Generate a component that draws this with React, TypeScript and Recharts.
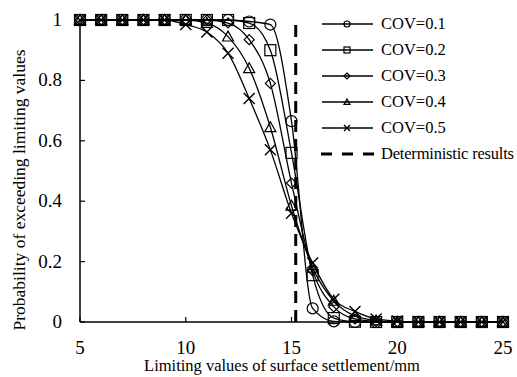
import { Label, Line, LineChart, ReferenceLine, XAxis, YAxis } from "recharts";

// Limiting settlement values (mm) at which the exceedance probability was evaluated
const settlement = [5, 6, 7, 8, 9, 10, 11, 12, 13, 14, 15, 16, 17, 18, 19, 20, 21, 22, 23, 24, 25];

const cov01 = [1, 1, 1, 1, 1, 1, 1, 1, 0.995, 0.985, 0.665, 0.045, 0.002, 0, 0, 0, 0, 0, 0, 0, 0];
const cov02 = [1, 1, 1, 1, 1, 1, 1, 1, 0.99, 0.9, 0.56, 0.155, 0.013, 0.001, 0, 0, 0, 0, 0, 0, 0];
const cov03 = [1, 1, 1, 1, 1, 1, 1, 0.99, 0.935, 0.79, 0.46, 0.17, 0.05, 0.01, 0.002, 0, 0, 0, 0, 0, 0];
const cov04 = [1, 1, 1, 1, 1, 1, 0.99, 0.945, 0.84, 0.645, 0.385, 0.18, 0.07, 0.02, 0.005, 0, 0, 0, 0, 0, 0];
const cov05 = [1, 1, 1, 1, 1, 0.985, 0.96, 0.89, 0.74, 0.57, 0.36, 0.195, 0.075, 0.035, 0.01, 0.003, 0, 0, 0, 0, 0];

// Deterministic settlement result (mm)
const deterministicLimit = 15.2;

const xTicks = [5, 10, 15, 20, 25];
const yTicks = [0, 0.2, 0.4, 0.6, 0.8, 1];

type Shape = "circle" | "square" | "diamond" | "triangle" | "cross";

const series: { key: string; name: string; shape: Shape; values: number[] }[] = [
  { key: "cov01", name: "COV=0.1", shape: "circle", values: cov01 },
  { key: "cov02", name: "COV=0.2", shape: "square", values: cov02 },
  { key: "cov03", name: "COV=0.3", shape: "diamond", values: cov03 },
  { key: "cov04", name: "COV=0.4", shape: "triangle", values: cov04 },
  { key: "cov05", name: "COV=0.5", shape: "cross", values: cov05 }
];

const rows = settlement.map((x, i) => {
  const row: Record<string, number> = { x };
  series.forEach((s) => {
    row[s.key] = s.values[i];
  });
  return row;
});

const FONT = "Liberation Serif";

function Marker({ shape, cx, cy, size }: { shape: Shape; cx: number; cy: number; size: number }) {
  const h = size / 2;
  const common = { fill: "none", stroke: "#000", strokeWidth: 1.2 };
  switch (shape) {
    case "circle":
      return <circle cx={cx} cy={cy} r={h} {...common} />;
    case "square":
      return <rect x={cx - h} y={cy - h} width={size} height={size} {...common} />;
    case "diamond":
      return <polygon points={`${cx},${cy - h} ${cx + h},${cy} ${cx},${cy + h} ${cx - h},${cy}`} {...common} />;
    case "triangle":
      return <polygon points={`${cx},${cy - h} ${cx + h},${cy + h * 0.8} ${cx - h},${cy + h * 0.8}`} {...common} />;
    case "cross":
      return (
        <path d={`M${cx - h},${cy - h}L${cx + h},${cy + h}M${cx + h},${cy - h}L${cx - h},${cy + h}`} {...common} strokeWidth={1.4} />
      );
  }
}

const markerSize: Record<Shape, number> = { circle: 11, square: 11, diamond: 10, triangle: 11, cross: 11 };

function XTick(p: any) {
  return (
    <text x={p.x} y={p.y} dy={12} textAnchor="middle" fontFamily={FONT} fontSize={19} fill="#000">
      {p.payload.value}
    </text>
  );
}

function YTick(p: any) {
  return (
    <text x={p.x} y={p.y} dy={6} textAnchor="end" fontFamily={FONT} fontSize={19} fill="#000">
      {p.payload.value}
    </text>
  );
}

function YTitle() {
  return (
    <text x={19} y={190} transform="rotate(-90, 19, 190)" textAnchor="middle" dominantBaseline="central"
      fontFamily={FONT} fontSize={17.5} fill="#000">
      Probability of exceeding limiting values
    </text>
  );
}

function XTitle() {
  return (
    <text x={282} y={371} textAnchor="middle" fontFamily={FONT} fontSize={16.5} fill="#000">
      Limiting values of surface settlement/mm
    </text>
  );
}

function LegendBox() {
  return (
    <div style={{ position: "absolute", left: 318, top: 11, fontFamily: FONT, fontSize: 16.5, color: "#000" }}>
      {series.map((s) => (
        <div key={s.key} style={{ display: "flex", alignItems: "center", height: 26 }}>
          <svg width={56} height={26}>
            <line x1={4} y1={13} x2={55} y2={13} stroke="#000" strokeWidth={1.3} />
            <Marker shape={s.shape} cx={29} cy={13} size={6} />
          </svg>
          <span style={{ marginLeft: 7, whiteSpace: "nowrap" }}>{s.name}</span>
        </div>
      ))}
      <div style={{ display: "flex", alignItems: "center", height: 26 }}>
        <svg width={56} height={26}>
          <line x1={3} y1={13} x2={58} y2={13} stroke="#000" strokeWidth={3} strokeDasharray="11 10" />
        </svg>
        <span style={{ marginLeft: 7, whiteSpace: "nowrap", letterSpacing: -0.2 }}>Deterministic results</span>
      </div>
    </div>
  );
}

export default function App() {
  return (
    <div style={{ position: "absolute", left: 0, top: 0, width: 517, height: 377, background: "#fff", fontFamily: FONT, overflow: "hidden" }}>
      <LineChart width={517} height={377} data={rows} margin={{ top: 20, right: 14, bottom: 0, left: 0 }}>
        <XAxis
          dataKey="x"
          type="number"
          domain={[5, 25]}
          ticks={xTicks}
          height={55}
          tickSize={-5}
          tickMargin={25}
          axisLine={{ stroke: "#000", strokeWidth: 1.5 }}
          tickLine={{ stroke: "#000", strokeWidth: 1.2 }}
          tick={<XTick />}
        >
          <Label content={<XTitle />} />
        </XAxis>
        <YAxis
          type="number"
          domain={[0, 1]}
          ticks={yTicks}
          width={80}
          tickSize={-5}
          tickMargin={23}
          axisLine={{ stroke: "#000", strokeWidth: 1.5 }}
          tickLine={{ stroke: "#000", strokeWidth: 1.2 }}
          tick={<YTick />}
        >
          <Label content={<YTitle />} />
        </YAxis>
        <ReferenceLine x={deterministicLimit} stroke="#000" strokeWidth={3} strokeDasharray="12 7" />
        {series.map((s) => (
          <Line
            key={s.key}
            dataKey={s.key}
            name={s.name}
            type="monotone"
            stroke="#000"
            strokeWidth={1.3}
            isAnimationActive={false}
            dot={(p: any) => (
              <Marker key={`${s.key}-${p.index}`} shape={s.shape} cx={p.cx} cy={p.cy} size={markerSize[s.shape]} />
            )}
            activeDot={false}
          />
        ))}
      </LineChart>
      <LegendBox />
    </div>
  );
}
